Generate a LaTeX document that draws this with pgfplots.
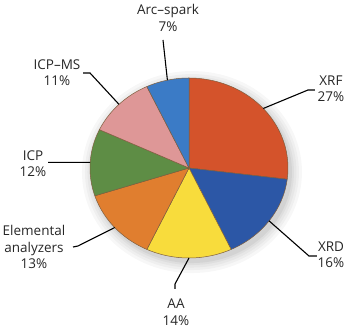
\documentclass[border=0pt]{standalone}
\usepackage{pgfplots}
\pgfplotsset{compat=1.18}
\usepackage{fontspec}
\setmainfont{Open Sans}
\definecolor{cXRF}{HTML}{D4532B}
\definecolor{cXRD}{HTML}{2C57A6}
\definecolor{cAA}{HTML}{F8DC3C}
\definecolor{cEL}{HTML}{E07E2F}
\definecolor{cICP}{HTML}{5E8D45}
\definecolor{cMS}{HTML}{DE9797}
\definecolor{cARC}{HTML}{3B7BC6}
\definecolor{edgec}{HTML}{7E5E3E}
% #1 cumulative start (%), #2 share (%), #3 colour
\newcommand{\slice}[3]{%
  \addplot[fill=#3, draw=edgec, line width=0.5pt, line join=round,
    domain={90-3.6*(#1+#2)}:{90-3.6*(#1)}, samples=60, variable=\t]
    ({cos(\t)},{sin(\t)}) -- (axis cs:0,0) -- cycle;
}
\begin{document}
\begin{tikzpicture}
\begin{axis}[x=99pt, y=90pt, hide axis, clip=false,
  xmin=-1.9091, xmax=1.6263, ymin=-1.7889, ymax=1.8667]
\path (axis cs:-1.9091,-1.7889) rectangle (axis cs:1.6263,1.8667);
% soft shadow
\fill[black, opacity=0.03] (axis cs:0.03,-0.045) ellipse [x radius=110pt, y radius=101pt];
\fill[black, opacity=0.03] (axis cs:0.03,-0.045) ellipse [x radius=107pt, y radius=98pt];
\fill[black, opacity=0.035] (axis cs:0.03,-0.045) ellipse [x radius=104.5pt, y radius=95.5pt];
\fill[black, opacity=0.04] (axis cs:0.03,-0.045) ellipse [x radius=102pt, y radius=93pt];
\fill[black, opacity=0.05] (axis cs:0.03,-0.045) ellipse [x radius=100pt, y radius=91pt];
% slices: XRF 27, XRD 16, AA 14, Elemental 13, ICP 12, ICP-MS 11, Arc-spark 7
\slice{0}{27}{cXRF}
\slice{27}{16}{cXRD}
\slice{43}{14}{cAA}
\slice{57}{13}{cEL}
\slice{70}{12}{cICP}
\slice{82}{11}{cMS}
\slice{93}{7}{cARC}
% leader lines
\begin{scope}[line width=1.1pt, black]
\draw (axis cs:-0.2626,1.4222) -- (axis cs:{cos(102.6)},{sin(102.6)});
\draw (axis cs:-1.0707,1.0556) -- (axis cs:-1.0,1.0556) -- (axis cs:{cos(135)},{sin(135)});
\draw (axis cs:1.2727,0.8667) -- (axis cs:1.2020,0.8667) -- (axis cs:{cos(41.4)},{sin(41.4)});
\draw (axis cs:1.2929,-0.9778) -- (axis cs:1.2121,-0.9778) -- (axis cs:{cos(-36)},{sin(-36)});
\draw (axis cs:-0.1414,-1.3444) -- (axis cs:-0.1414,-1.2889) -- (axis cs:{cos(-90)},{sin(-90)});
\draw (axis cs:-1.4242,0.063) -- (axis cs:{cos(-183.6)},{sin(-183.6)});
\draw (axis cs:-1.1717,-0.8778) -- (axis cs:-1.1212,-0.8667) -- (axis cs:{cos(-138.6)},{sin(-138.6)});
\end{scope}
% labels
\begin{scope}[every node/.style={align=center, inner sep=0pt, font=\fontsize{13.5}{16.5}\selectfont, text=black!85}]
\node at (axis cs:-0.2121,1.6667) {Arc–spark\\7\%};
\node at (axis cs:-1.3333,1.0611) {ICP–MS\\11\%};
\node at (axis cs:1.4343,0.8778) {XRF\\27\%};
\node at (axis cs:1.4343,-0.9667) {XRD\\16\%};
\node at (axis cs:-0.1313,-1.6) {AA\\14\%};
\node at (axis cs:-1.5758,0.05) {ICP\\12\%};
\node at (axis cs:-1.5657,-0.8778) {Elemental\\analyzers\\13\%};
\end{scope}
\end{axis}
\end{tikzpicture}
\end{document}
